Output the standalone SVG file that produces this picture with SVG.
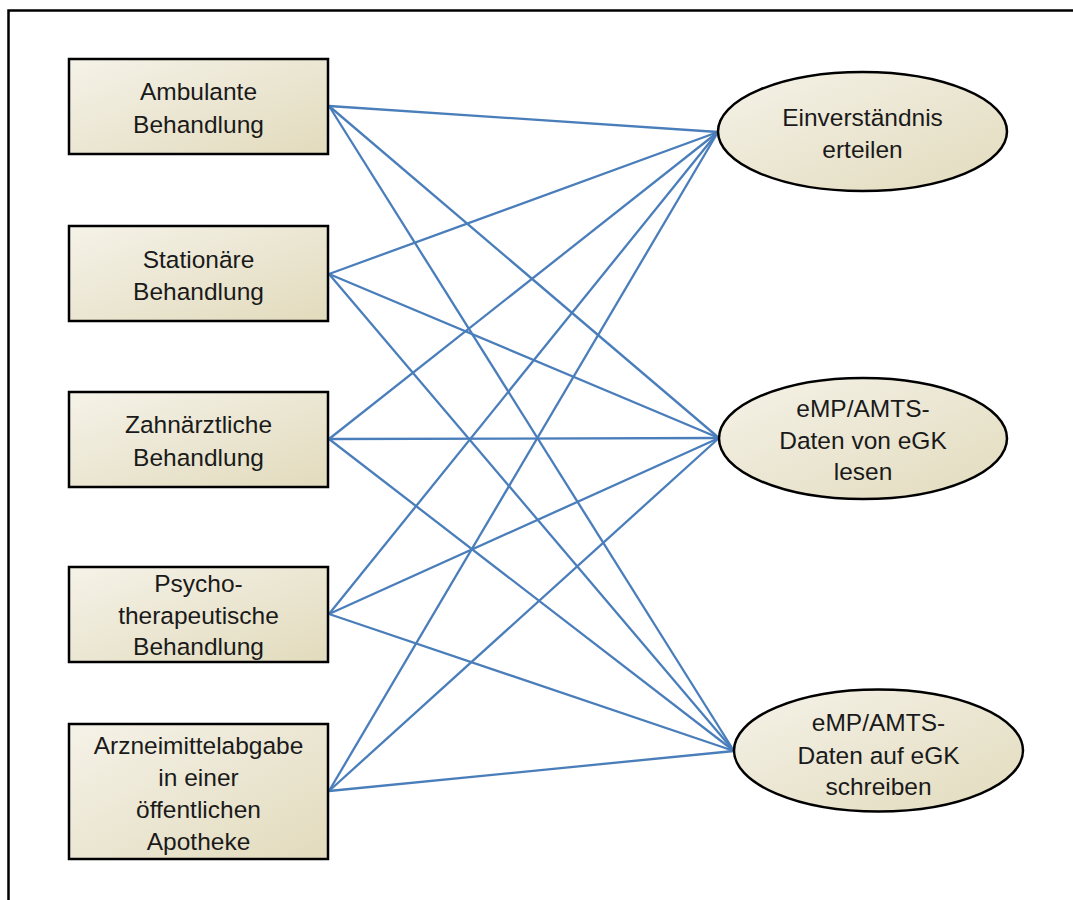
<svg xmlns="http://www.w3.org/2000/svg" width="1073" height="900" viewBox="0 0 1073 900">
  <defs>
    <linearGradient id="fill" x1="0" y1="0" x2="1" y2="1">
      <stop offset="0" stop-color="#f5f2e8"/>
      <stop offset="1" stop-color="#e2dbbd"/>
    </linearGradient>
    <style>
      .box { fill: url(#fill); stroke: #000; stroke-width: 2.5; }
      .lbl { font-family: "Liberation Sans", Arial, sans-serif; font-size: 24.5px; fill: #1a1a1a; text-anchor: middle; }
      .conn line { stroke: #4a7ebb; stroke-width: 2.3; }
    </style>
  </defs>
  <rect x="0" y="0" width="1073" height="900" fill="#fff"/>
  <rect x="8.5" y="10.5" width="1100" height="920" fill="none" stroke="#000" stroke-width="2.5"/>

  <g id="connectors" class="conn">
    <line x1="329" y1="106" x2="718" y2="132"/>
    <line x1="329" y1="106" x2="719" y2="438"/>
    <line x1="329" y1="106" x2="734" y2="751"/>
    <line x1="329" y1="274" x2="718" y2="132"/>
    <line x1="329" y1="274" x2="719" y2="438"/>
    <line x1="329" y1="274" x2="734" y2="751"/>
    <line x1="329" y1="439" x2="718" y2="132"/>
    <line x1="329" y1="439" x2="719" y2="438"/>
    <line x1="329" y1="439" x2="734" y2="751"/>
    <line x1="329" y1="614" x2="718" y2="132"/>
    <line x1="329" y1="614" x2="719" y2="438"/>
    <line x1="329" y1="614" x2="734" y2="751"/>
    <line x1="329" y1="791" x2="718" y2="132"/>
    <line x1="329" y1="791" x2="719" y2="438"/>
    <line x1="329" y1="791" x2="734" y2="751"/>
  </g>

  <g id="ambulante">
    <rect class="box" x="69" y="59" width="259" height="95"/>
    <text class="lbl" x="198.5" y="100">Ambulante</text>
    <text class="lbl" x="198.5" y="133">Behandlung</text>
  </g>
  <g id="stationaere">
    <rect class="box" x="69" y="226" width="259" height="95"/>
    <text class="lbl" x="198.5" y="268">Stationäre</text>
    <text class="lbl" x="198.5" y="300">Behandlung</text>
  </g>
  <g id="zahnaerztliche">
    <rect class="box" x="69" y="392" width="259" height="95"/>
    <text class="lbl" x="198.5" y="433">Zahnärztliche</text>
    <text class="lbl" x="198.5" y="466">Behandlung</text>
  </g>
  <g id="psycho">
    <rect class="box" x="69" y="567" width="259" height="95"/>
    <text class="lbl" x="198.5" y="592">Psycho-</text>
    <text class="lbl" x="198.5" y="624">therapeutische</text>
    <text class="lbl" x="198.5" y="655">Behandlung</text>
  </g>
  <g id="apotheke">
    <rect class="box" x="69" y="724" width="259" height="135"/>
    <text class="lbl" x="198.5" y="754">Arzneimittelabgabe</text>
    <text class="lbl" x="198.5" y="786">in einer</text>
    <text class="lbl" x="198.5" y="818">öffentlichen</text>
    <text class="lbl" x="198.5" y="850">Apotheke</text>
  </g>

  <g id="einverstaendnis">
    <ellipse class="box" cx="862.5" cy="131.5" rx="144.5" ry="59.5"/>
    <text class="lbl" x="862.5" y="126">Einverständnis</text>
    <text class="lbl" x="862.5" y="158">erteilen</text>
  </g>
  <g id="lesen">
    <ellipse class="box" cx="863" cy="438.5" rx="144" ry="60.5"/>
    <text class="lbl" x="863" y="417">eMP/AMTS-</text>
    <text class="lbl" x="863" y="449">Daten von eGK</text>
    <text class="lbl" x="863" y="480">lesen</text>
  </g>
  <g id="schreiben">
    <ellipse class="box" cx="878.5" cy="750.5" rx="144.5" ry="61"/>
    <text class="lbl" x="878.5" y="731">eMP/AMTS-</text>
    <text class="lbl" x="878.5" y="764">Daten auf eGK</text>
    <text class="lbl" x="878.5" y="795">schreiben</text>
  </g>
</svg>
